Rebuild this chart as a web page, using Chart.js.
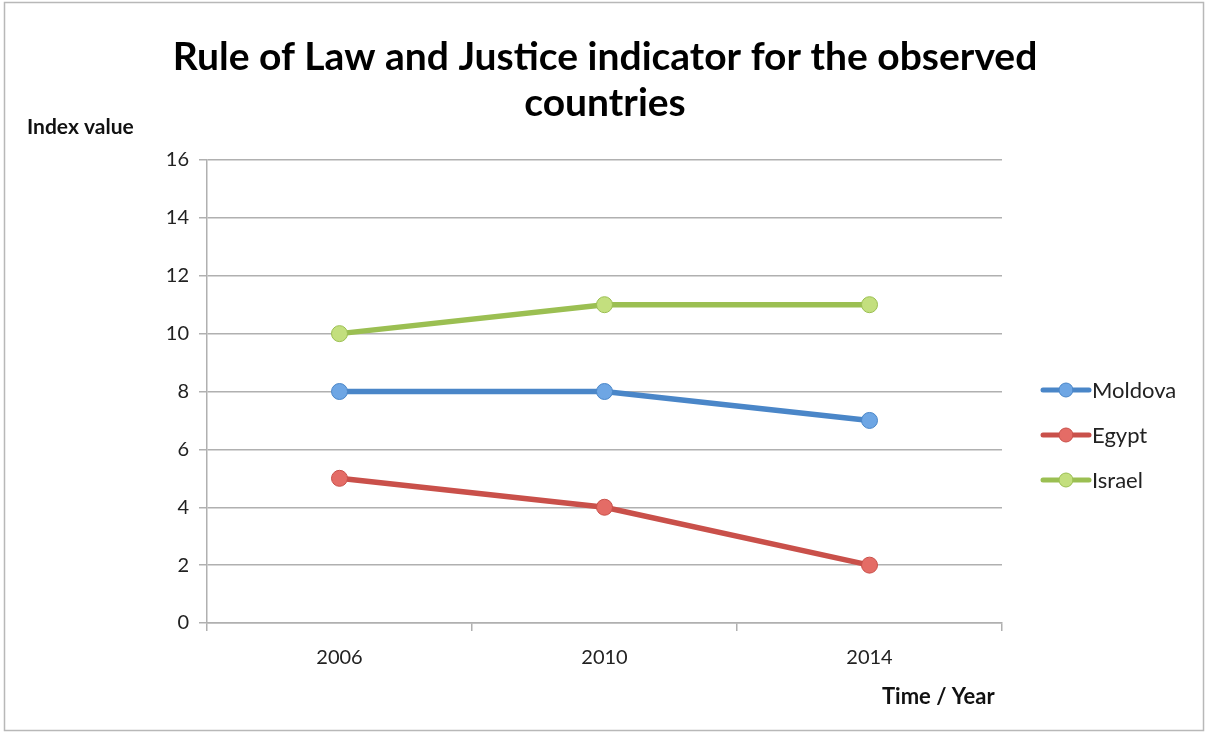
<!DOCTYPE html>
<html>
<head>
<meta charset="utf-8">
<script src="https://cdn.jsdelivr.net/npm/chart.js@4/dist/chart.umd.min.js"></script>
<style>
  html, body { margin: 0; padding: 0; background: #fff; }
  #wrap { width: 1208px; height: 735px; position: relative; }
</style>
</head>
<body>
<div id="wrap"><canvas id="Chart"></canvas></div>
<script>
const years = ["2006", "2010", "2014"];
const moldova = [8, 8, 7];
const egypt = [5, 4, 2];
const israel = [10, 11, 11];
const seriesNames = ["Moldova", "Egypt", "Israel"];
const titleLines = ["Rule of Law and Justice indicator for the observed", "countries"];

const FONT = "Lato, 'Open Sans', sans-serif";
const lineColors = ["#4a86c8", "#c9504a", "#9bbf52"];
const pointColors = ["#6ea6e4", "#e46c66", "#c3df7e"];

const frameAndText = {
  id: "frameAndText",
  afterDraw(chart) {
    const ctx = chart.ctx;
    ctx.save();
    // outer frame
    ctx.strokeStyle = "#b8b8b8";
    ctx.lineWidth = 1.5;
    ctx.strokeRect(4.5, 2.5, 1199, 728);

    // title
    ctx.fillStyle = "#000";
    ctx.textAlign = "center";
    ctx.textBaseline = "middle";
    ctx.font = "bold 39px " + FONT;
    ctx.fillText(titleLines[0], 605, 57);
    ctx.fillText(titleLines[1], 605, 103);

    // axis titles
    ctx.font = "bold 21px " + FONT;
    ctx.textAlign = "left";
    ctx.fillStyle = "#111";
    ctx.fillText("Index value", 27, 127);
    ctx.font = "bold 22px " + FONT;
    ctx.fillText("Time / Year", 882, 697);

    // legend
    const ys = [390, 435, 480];
    ctx.font = "22px " + FONT;
    ctx.textBaseline = "middle";
    seriesNames.forEach((name, i) => {
      const y = ys[i];
      ctx.strokeStyle = lineColors[i];
      ctx.lineWidth = 5;
      ctx.lineCap = "round";
      ctx.beginPath();
      ctx.moveTo(1043, y);
      ctx.lineTo(1089, y);
      ctx.stroke();
      ctx.beginPath();
      ctx.arc(1066, y, 7, 0, Math.PI * 2);
      ctx.fillStyle = pointColors[i];
      ctx.fill();
      ctx.lineWidth = 1;
      ctx.strokeStyle = lineColors[i];
      ctx.stroke();
      ctx.fillStyle = "#222";
      ctx.fillText(name, 1092, y + 1);
    });
    ctx.restore();
  }
};

function makeSet(label, data, i) {
  return {
    label: label,
    data: data,
    borderColor: lineColors[i],
    backgroundColor: pointColors[i],
    borderWidth: 5.5,
    pointRadius: 8,
    pointBorderWidth: 1,
    pointBorderColor: lineColors[i],
    pointBackgroundColor: pointColors[i],
    tension: 0
  };
}

new Chart(document.getElementById("Chart"), {
  type: "line",
  data: {
    labels: years,
    datasets: [
      makeSet(seriesNames[0], moldova, 0),
      makeSet(seriesNames[1], egypt, 1),
      makeSet(seriesNames[2], israel, 2)
    ]
  },
  plugins: [frameAndText],
  options: {
    responsive: true,
    maintainAspectRatio: false,
    animation: false,
    devicePixelRatio: 1,
    layout: { padding: { top: 160, right: 206, left: 0, bottom: 0 } },
    plugins: {
      legend: { display: false },
      title: { display: false },
      tooltip: { enabled: false }
    },
    scales: {
      x: {
        offset: true,
        afterFit: (s) => { s.height = 112; },
        grid: {
          offset: true,
          drawOnChartArea: false,
          drawTicks: true,
          tickLength: 8,
          color: "#b0b0b0",
          lineWidth: 1.5
        },
        border: { color: "#b0b0b0", width: 1.5 },
        ticks: {
          color: "#222",
          font: { family: FONT, size: 20 },
          padding: 15
        }
      },
      y: {
        min: 0,
        max: 16,
        afterFit: (s) => { s.width = 207; },
        grid: {
          color: "#b0b0b0",
          lineWidth: 1.5,
          drawTicks: true,
          tickLength: 8
        },
        border: { color: "#b0b0b0", width: 1.5 },
        ticks: {
          stepSize: 2,
          color: "#222",
          font: { family: FONT, size: 20 },
          padding: 10
        }
      }
    }
  }
});
</script>
</body>
</html>
